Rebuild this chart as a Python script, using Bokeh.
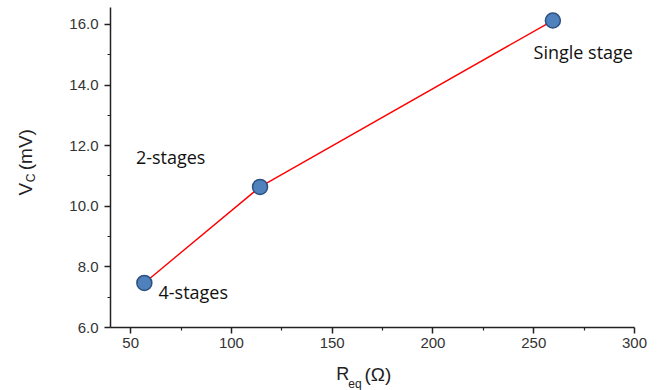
from bokeh.plotting import figure
from bokeh.models import FixedTicker, NumeralTickFormatter, Label, Range1d
from bokeh.embed import file_html
from bokeh.resources import INLINE
from math import pi

r_eq = [56.8, 114.2, 259.5]
v_c = [7.47, 10.64, 16.13]
labels_text = ["4-stages", "2-stages", "Single stage"]
label_x = [63.8, 52.6, 249.9]
label_y = [7.16, 11.62, 15.09]
x_ticks = [50, 100, 150, 200, 250, 300]
x_minor = [75, 125, 175, 225, 275]
y_ticks = [6, 8, 10, 12, 14, 16]
y_minor = [7, 9, 11, 13, 15]
x_lim = (40, 300)
y_lim = (6, 16.56)

# layout: pixel box of the axes area inside the canvas
W, H = 670, 390
BOX_L, BOX_R, BOX_T, BOX_B = 110, 634, 7, 327
sx = (BOX_R - BOX_L) / (x_lim[1] - x_lim[0])
sy = (BOX_B - BOX_T) / (y_lim[1] - y_lim[0])
x_range = Range1d(x_lim[0] - BOX_L / sx, x_lim[1] + (W - BOX_R) / sx)
y_range = Range1d(y_lim[0] - (H - BOX_B) / sy, y_lim[1] + BOX_T / sy)

p = figure(width=W, height=H, output_backend="svg", toolbar_location=None, title=None,
           x_range=x_range, y_range=y_range,
           min_border_left=0, min_border_right=0, min_border_top=0, min_border_bottom=0)
p.outline_line_color = None
p.grid.visible = False
p.background_fill_color = "white"
p.border_fill_color = "white"

p.line(r_eq, v_c, line_color="#ff0000", line_width=1.4)
p.scatter(r_eq, v_c, size=15, fill_color="#4f81bd", line_color="#2c5080", line_width=1.5)

for t, x, y in zip(labels_text, label_x, label_y):
    p.add_layout(Label(x=x, y=y, text=t, text_font="Open Sans", text_font_size="18px",
                       text_color="#111111", text_baseline="middle"))

for ax in (p.xaxis[0], p.yaxis[0]):
    ax.axis_line_color = "#222222"
    ax.axis_line_width = 1.5
    ax.major_tick_line_color = "#222222"
    ax.minor_tick_line_color = "#222222"
    ax.major_tick_line_width = 1.5
    ax.minor_tick_line_width = 1.2
    ax.major_tick_in = 0
    ax.major_tick_out = 6
    ax.minor_tick_in = 0
    ax.minor_tick_out = 3
    ax.major_label_text_font = "Liberation Sans"
    ax.major_label_text_font_size = "15px"
    ax.major_label_text_color = "#333333"

p.xaxis.fixed_location = y_lim[0]
p.yaxis.fixed_location = x_lim[0]
p.xaxis.bounds = x_lim
p.yaxis.bounds = y_lim
p.xaxis.ticker = FixedTicker(ticks=x_ticks, minor_ticks=x_minor)
p.yaxis.ticker = FixedTicker(ticks=y_ticks, minor_ticks=y_minor)
p.yaxis.formatter = NumeralTickFormatter(format="0.0")
p.xaxis.major_label_standoff = 4
p.yaxis.major_label_standoff = 6

# axis titles with subscripts
font = "Liberation Sans"
col = "#222222"
titles = [
    (152.0, 4.46, "R", "18px", 0),
    (158.0, 4.15, "eq", "12px", 0),
    (166.0, 4.46, "(Ω)", "19px", 0),
    (-2.2, 10.36, "V", "19px", pi / 2),
    (0.6, 10.79, "C", "12px", pi / 2),
    (-2.2, 11.19, "(mV)", "19px", pi / 2),
]
for x, y, t, fs, ang in titles:
    p.add_layout(Label(x=x, y=y, text=t, angle=ang, text_font=font, text_font_size=fs,
                       text_color=col, text_baseline="middle"))

open("out.html", "w").write(file_html(p, INLINE))
